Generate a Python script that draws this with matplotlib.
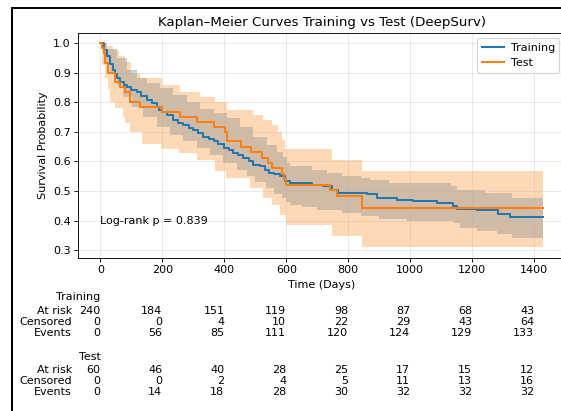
import matplotlib
matplotlib.use('Agg')
import matplotlib.pyplot as plt
from matplotlib.lines import Line2D
import matplotlib.transforms as mtransforms

# ---------------- data ----------------
T_END = 1428

train_t = [0, 10, 20, 31, 40, 47, 55, 63, 75, 85, 100, 117, 130, 150, 165, 182, 190, 200, 215, 235,
           250, 268, 285, 300, 315, 332, 350, 365, 380, 400, 415, 429, 445, 461, 478, 494, 515, 530,
           545, 560, 580, 596, 612, 682, 719, 746, 768, 859, 892, 956, 1010, 1085, 1139, 1150, 1214,
           1284, 1322, T_END]
train_s = [1.0, 0.975, 0.957, 0.93, 0.91, 0.896, 0.88, 0.868, 0.857, 0.851, 0.842, 0.834, 0.82, 0.806,
           0.797, 0.783, 0.775, 0.767, 0.755, 0.739, 0.73, 0.722, 0.714, 0.706, 0.695, 0.683, 0.675,
           0.667, 0.658, 0.646, 0.637, 0.628, 0.62, 0.611, 0.60, 0.588, 0.583, 0.57, 0.56, 0.556, 0.549,
           0.532, 0.527, 0.521, 0.515, 0.504, 0.493, 0.488, 0.476, 0.471, 0.465, 0.46, 0.448, 0.44,
           0.435, 0.421, 0.413, 0.413]

train_hi_t = [0, 20, 53, 85, 117, 150, 193, 235, 279, 322, 365, 408, 451, 494, 537, 570, 590, 601, 612,
              650, 682, 730, 780, 840, 870, 930, 1031, 1133, 1150, 1240, 1327, T_END]
train_hi = [1.0, 0.98, 0.95, 0.91, 0.88, 0.865, 0.848, 0.823, 0.801, 0.778, 0.762, 0.745, 0.717, 0.683,
            0.655, 0.63, 0.616, 0.595, 0.583, 0.583, 0.571, 0.56, 0.549, 0.544, 0.538, 0.527, 0.527,
            0.516, 0.504, 0.493, 0.476, 0.476]

train_lo_t = [0, 8, 15, 31, 53, 74, 101, 139, 182, 225, 268, 311, 354, 397, 440, 472, 500, 536, 560,
              585, 600, 612, 650, 700, 780, 840, 900, 990, 1139, 1160, 1214, 1280, 1327, T_END]
train_lo = [1.0, 0.96, 0.935, 0.896, 0.857, 0.817, 0.784, 0.75, 0.717, 0.689, 0.667, 0.644, 0.622, 0.594,
            0.571, 0.549, 0.53, 0.51, 0.49, 0.475, 0.461, 0.454, 0.446, 0.437, 0.426, 0.415, 0.404,
            0.398, 0.393, 0.376, 0.364, 0.353, 0.342, 0.342]

test_t = [0, 5, 10, 15, 26, 47, 63, 79, 96, 128, 198, 257, 311, 365, 402, 410, 455, 485, 521, 540, 555,
          585, 593, 598, 741, 763, 843, T_END]
test_s = [1.0, 0.983, 0.967, 0.933, 0.90, 0.867, 0.85, 0.833, 0.80, 0.783, 0.767, 0.75, 0.733, 0.717,
          0.70, 0.667, 0.648, 0.63, 0.611, 0.594, 0.576, 0.558, 0.54, 0.521, 0.502, 0.484, 0.443, 0.443]

test_hi_t = [0, 20, 40, 60, 80, 100, 128, 198, 257, 322, 370, 408, 494, 526, 553, 574, 585, 596, 746,
             843, T_END]
test_hi = [1.0, 0.99, 0.975, 0.955, 0.935, 0.90, 0.88, 0.857, 0.834, 0.817, 0.80, 0.773, 0.756, 0.739,
           0.722, 0.70, 0.672, 0.641, 0.605, 0.566, 0.566]

test_lo_t = [0, 5, 15, 26, 31, 47, 74, 80, 96, 133, 196, 254, 311, 369, 404, 484, 525, 553, 580, 600,
             746, 843, T_END]
test_lo = [1.0, 0.925, 0.88, 0.845, 0.80, 0.78, 0.75, 0.73, 0.70, 0.66, 0.64, 0.627, 0.605, 0.566,
           0.544, 0.51, 0.476, 0.454, 0.42, 0.384, 0.348, 0.309, 0.309]

tick_times = [0, 200, 400, 600, 800, 1000, 1200, 1400]
train_at_risk = [240, 184, 151, 119, 98, 87, 68, 43]
train_censored = [0, 0, 4, 10, 22, 29, 43, 64]
train_events = [0, 56, 85, 111, 120, 124, 129, 133]
test_at_risk = [60, 46, 40, 28, 25, 17, 15, 12]
test_censored = [0, 0, 2, 4, 5, 11, 13, 16]
test_events = [0, 14, 18, 28, 30, 32, 32, 32]

p_value = 0.839

# ---------------- figure ----------------
DPI = 80
W, H = 561, 411
fig = plt.figure(figsize=(W / DPI, H / DPI), dpi=DPI)

L, R, TOP, BOT = 78.3, 565.0, 32.7, 257.7
ax = fig.add_axes([L / W, 1 - BOT / H, (R - L) / W, (BOT - TOP) / H])

blue, orange = '#1f77b4', '#ff7f0e'


def ci_band(ax, lo_t, lo, hi_t, hi, color):
    ts = sorted(set(lo_t) | set(hi_t))

    def val(tt, vv, x):
        v = vv[0]
        for a, b in zip(tt, vv):
            if a <= x:
                v = b
        return v
    los = [val(lo_t, lo, x) for x in ts]
    his = [val(hi_t, hi, x) for x in ts]
    ax.fill_between(ts, los, his, step='post', color=color, alpha=0.3, lw=0, zorder=1)


ax.step(train_t, train_s, where='post', color=blue, lw=1.8, label='Training', zorder=2)
ci_band(ax, train_lo_t, train_lo, train_hi_t, train_hi, blue)
ax.step(test_t, test_s, where='post', color=orange, lw=1.8, label='Test', zorder=2.1)
ci_band(ax, test_lo_t, test_lo, test_hi_t, test_hi, orange)

ax.set_xticks(tick_times)
ax.set_yticks([0.3, 0.4, 0.5, 0.6, 0.7, 0.8, 0.9, 1.0])
ax.grid(True, alpha=0.3)
ax.set_xlabel('Time (Days)')
ax.set_ylabel('Survival Probability')
ax.set_title('Kaplan\u2013Meier Curves Training vs Test (DeepSurv)')
ax.legend(loc='upper right', handletextpad=0.6)
ax.text(0, 0.40, f'Log-rank p = {p_value:.3f}', va='center', ha='left')

# ---------------- risk table ----------------
btf = mtransforms.blended_transform_factory(ax.transData, fig.transFigure)
lbl_tr = btf + mtransforms.ScaledTranslation(-28.5 / DPI, 0, fig.dpi_scale_trans)


def table(name, rows, y0):
    fig.text(0, 1 - y0 / H, name, transform=btf, ha='right', va='center')
    for i, (rname, vals) in enumerate(rows):
        y = 1 - (y0 + 13.3 + 11.3 * i) / H
        fig.text(0, y, rname, transform=lbl_tr, ha='right', va='center')
        for t, v in zip(tick_times, vals):
            fig.text(t, y, str(v), transform=btf, ha='right', va='center')


table('Training', [('At risk', train_at_risk), ('Censored', train_censored),
                   ('Events', train_events)], 297.5)
table('Test', [('At risk', test_at_risk), ('Censored', test_censored),
               ('Events', test_events)], 356.5)

# frame lines from the original screenshot
fig.add_artist(Line2D([12 / W, 12 / W], [0, 1 - 8 / H], transform=fig.transFigure,
                      color='black', lw=2.0 * 72 / DPI))
fig.add_artist(Line2D([12 / W, 1], [1 - 8 / H, 1 - 8 / H], transform=fig.transFigure,
                      color='black', lw=2.0 * 72 / DPI))

fig.savefig('out.png', dpi=DPI)
